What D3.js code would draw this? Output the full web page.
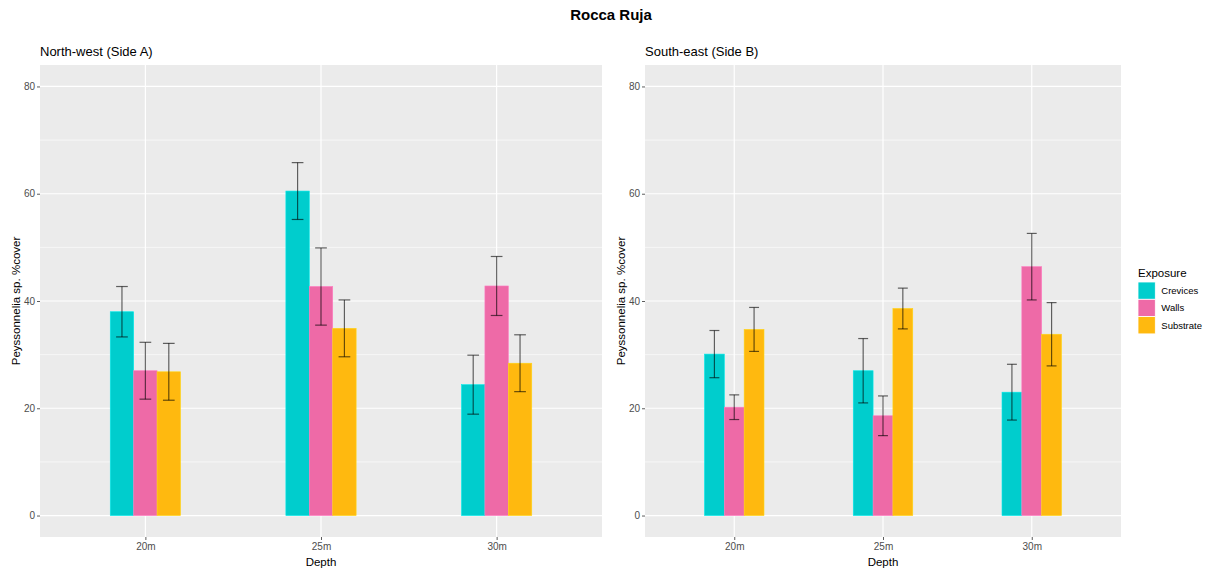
<!DOCTYPE html>
<html>
<head>
<meta charset="utf-8">
<script src="https://cdn.jsdelivr.net/npm/d3@7"></script>
<style>
  html, body { margin: 0; padding: 0; background: #fff; }
  svg { display: block; font-family: "Liberation Sans", Arial, sans-serif; }
</style>
</head>
<body>
<svg id="chart" width="1212" height="575"></svg>
<script>
// Depth classes and exposure groups
const depths = ["20m", "25m", "30m"];
const exposures = ["Crevices", "Walls", "Substrate"];
const exposureColors = ["#00CDCD", "#EE6AA7", "#FFB90F"];
const yTicks = [0, 20, 40, 60, 80];

// North-west (Side A): mean % cover and error half-width per exposure, by depth
const sideA_crevices = [38.0, 60.5, 24.4];
const sideA_crevicesErr = [4.7, 5.3, 5.5];
const sideA_walls = [27.0, 42.7, 42.8];
const sideA_wallsErr = [5.3, 7.2, 5.5];
const sideA_substrate = [26.8, 34.9, 28.4];
const sideA_substrateErr = [5.3, 5.3, 5.3];

// South-east (Side B)
const sideB_crevices = [30.1, 27.0, 23.0];
const sideB_crevicesErr = [4.4, 6.0, 5.2];
const sideB_walls = [20.2, 18.6, 46.4];
const sideB_wallsErr = [2.3, 3.7, 6.2];
const sideB_substrate = [34.7, 38.6, 33.8];
const sideB_substrateErr = [4.1, 3.8, 5.9];

function buildRows(means, errs) {
  const rows = [];
  exposures.forEach((ex, ei) => {
    depths.forEach((d, di) => {
      rows.push({ depth: d, exposure: ex, ei, mean: means[ei][di], err: errs[ei][di] });
    });
  });
  return rows;
}

const panels = [
  {
    subtitle: "North-west (Side A)",
    left: 40, right: 602,
    rows: buildRows([sideA_crevices, sideA_walls, sideA_substrate],
                    [sideA_crevicesErr, sideA_wallsErr, sideA_substrateErr])
  },
  {
    subtitle: "South-east (Side B)",
    left: 645, right: 1121,
    rows: buildRows([sideB_crevices, sideB_walls, sideB_substrate],
                    [sideB_crevicesErr, sideB_wallsErr, sideB_substrateErr])
  }
];

const svg = d3.select("#chart");
svg.append("rect").attr("width", 1212).attr("height", 575).attr("fill", "#fff");

const plotTop = 65, plotBottom = 537;
const y = d3.scaleLinear().domain([-4, 84]).range([plotBottom, plotTop]);
const color = d3.scaleOrdinal().domain(exposures).range(exposureColors);

// Main title
svg.append("text")
  .attr("x", 611).attr("y", 20)
  .attr("text-anchor", "middle")
  .attr("font-size", 15).attr("font-weight", "bold").attr("fill", "#000")
  .text("Rocca Ruja");

panels.forEach(p => {
  const x = d3.scalePoint().domain(depths).range([p.left, p.right]).padding(0.6);
  const step = x.step();
  const dodge = 0.4 * step;
  const barW = dodge / exposures.length;

  const g = svg.append("g");

  // Panel background
  g.append("rect")
    .attr("x", p.left).attr("y", plotTop)
    .attr("width", p.right - p.left).attr("height", plotBottom - plotTop)
    .attr("fill", "#EBEBEB");

  // Minor horizontal grid
  g.selectAll("line.minor")
    .data([10, 30, 50, 70])
    .join("line")
    .attr("class", "minor")
    .attr("x1", p.left).attr("x2", p.right)
    .attr("y1", d => y(d)).attr("y2", d => y(d))
    .attr("stroke", "#fff").attr("stroke-width", 0.6);

  // Major horizontal grid
  g.selectAll("line.majorY")
    .data(yTicks)
    .join("line")
    .attr("class", "majorY")
    .attr("x1", p.left).attr("x2", p.right)
    .attr("y1", d => y(d)).attr("y2", d => y(d))
    .attr("stroke", "#fff").attr("stroke-width", 1.2);

  // Major vertical grid
  g.selectAll("line.majorX")
    .data(depths)
    .join("line")
    .attr("class", "majorX")
    .attr("x1", d => x(d)).attr("x2", d => x(d))
    .attr("y1", plotTop).attr("y2", plotBottom)
    .attr("stroke", "#fff").attr("stroke-width", 1.2);

  // Bars
  const bx = d => x(d.depth) - dodge / 2 + d.ei * barW;
  g.selectAll("rect.bar")
    .data(p.rows)
    .join("rect")
    .attr("class", "bar")
    .attr("x", bx)
    .attr("y", d => y(d.mean))
    .attr("width", barW)
    .attr("height", d => y(0) - y(d.mean))
    .attr("fill", d => color(d.exposure))
    .attr("stroke", d => d3.color(color(d.exposure)).brighter(0.4))
    .attr("stroke-width", 0.6);

  // Error bars
  const capW = barW * 0.5;
  const eb = g.selectAll("g.err")
    .data(p.rows)
    .join("g")
    .attr("class", "err")
    .attr("stroke", "#000").attr("stroke-opacity", 0.6).attr("stroke-width", 1.2);
  eb.append("line")
    .attr("x1", d => bx(d) + barW / 2).attr("x2", d => bx(d) + barW / 2)
    .attr("y1", d => y(d.mean - d.err)).attr("y2", d => y(d.mean + d.err));
  eb.append("line")
    .attr("x1", d => bx(d) + barW / 2 - capW / 2).attr("x2", d => bx(d) + barW / 2 + capW / 2)
    .attr("y1", d => y(d.mean + d.err)).attr("y2", d => y(d.mean + d.err));
  eb.append("line")
    .attr("x1", d => bx(d) + barW / 2 - capW / 2).attr("x2", d => bx(d) + barW / 2 + capW / 2)
    .attr("y1", d => y(d.mean - d.err)).attr("y2", d => y(d.mean - d.err));

  // Axes
  const yAxis = g.append("g")
    .attr("transform", `translate(${p.left},0)`)
    .call(d3.axisLeft(y).tickValues(yTicks).tickSize(3).tickPadding(2));
  const xAxis = g.append("g")
    .attr("transform", `translate(0,${plotBottom})`)
    .call(d3.axisBottom(x).tickSize(3).tickPadding(3));
  [yAxis, xAxis].forEach(a => {
    a.select(".domain").remove();
    a.selectAll(".tick line").attr("stroke", "#333").attr("stroke-width", 0.8);
    a.selectAll(".tick text")
      .attr("fill", "#4D4D4D").attr("font-size", 10)
      .attr("font-family", "Liberation Sans, Arial, sans-serif");
  });

  // Subtitle
  g.append("text")
    .attr("x", p.left).attr("y", 56)
    .attr("font-size", 13).attr("fill", "#000")
    .text(p.subtitle);

  // Axis titles
  g.append("text")
    .attr("x", (p.left + p.right) / 2).attr("y", 566)
    .attr("text-anchor", "middle")
    .attr("font-size", 11.5).attr("fill", "#000")
    .text("Depth");
  g.append("text")
    .attr("transform", `translate(${p.left - 20},${(plotTop + plotBottom) / 2}) rotate(-90)`)
    .attr("text-anchor", "middle")
    .attr("font-size", 11.5).attr("fill", "#000")
    .text("Peyssonnelia sp. %cover");
});

// Legend
const legend = svg.append("g").attr("transform", "translate(1138,0)");
legend.append("text")
  .attr("x", 0).attr("y", 277)
  .attr("font-size", 11.5).attr("fill", "#000")
  .text("Exposure");
const keyH = 17.3;
exposures.forEach((ex, i) => {
  legend.append("rect")
    .attr("x", 0).attr("y", 282 + i * keyH)
    .attr("width", keyH).attr("height", keyH)
    .attr("fill", color(ex))
    .attr("stroke", "#fff").attr("stroke-width", 0.8);
  legend.append("text")
    .attr("x", keyH + 6).attr("y", 282 + i * keyH + keyH / 2)
    .attr("dy", "0.35em")
    .attr("font-size", 9.5).attr("fill", "#000")
    .text(ex);
});
</script>
</body>
</html>
